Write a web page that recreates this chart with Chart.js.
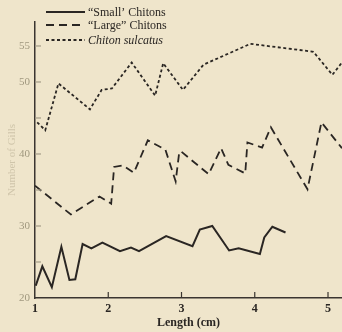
<!DOCTYPE html>
<html><head><meta charset="utf-8">
<script src="https://cdn.jsdelivr.net/npm/chart.js@4"></script>
<style>
html,body{margin:0;padding:0;background:#efe5cb;}
#wrap{width:342px;height:332px;position:relative;}
</style></head>
<body><div id="wrap"><canvas id="c" width="342" height="332"></canvas></div>
<script>
const seriesLabels = ["\u201cSmall\u2019 Chitons", "\u201cLarge\u201d Chitons", "Chiton sulcatus"];
const smallX = [1.01,1.10,1.23,1.36,1.47,1.55,1.65,1.77,1.92,2.16,2.31,2.42,2.79,3.15,3.25,3.42,3.65,3.78,4.07,4.13,4.24,4.42];
const smallY = [21.7,24.4,21.5,27.1,22.5,22.6,27.5,26.9,27.7,26.5,27.0,26.5,28.6,27.2,29.5,30.0,26.6,26.9,26.1,28.4,29.9,29.1];
const largeX = [1.00,1.49,1.88,2.04,2.08,2.20,2.35,2.54,2.78,2.92,2.97,3.00,3.37,3.54,3.64,3.87,3.90,4.10,4.22,4.72,4.91,5.19];
const largeY = [35.6,31.6,34.1,33.1,38.2,38.4,37.4,41.9,40.6,36.2,40.3,40.3,37.2,40.8,38.5,37.3,41.6,40.9,43.7,35.1,44.4,40.8];
const sulcX = [1.03,1.14,1.32,1.75,1.91,2.05,2.32,2.64,2.75,3.02,3.30,3.94,4.80,5.06,5.19];
const sulcY = [44.4,43.3,49.8,46.2,48.9,49.1,52.7,48.1,52.6,48.9,52.4,55.3,54.2,51.0,52.7];
const xTicks = [1,2,3,4,5];
const yTicks = [20,25,30,35,40,45,50,55];
const yLabelled = [20,30,40,50,55];

const ink = '#2a2623';
const serif = "'Liberation Serif','DejaVu Serif',serif";
const pts = (xs, ys) => xs.map((x, i) => ({x: x, y: ys[i]}));

const innerTicks = {
  id: 'innerTicks',
  afterDraw(chart) {
    const ctx = chart.ctx, xs = chart.scales.x, ys = chart.scales.y, a = chart.chartArea;
    ctx.save();
    ctx.strokeStyle = '#3a3530'; ctx.lineWidth = 1.2;
    xTicks.forEach(v => { if (v === 1) return; const p = xs.getPixelForValue(v);
      ctx.beginPath(); ctx.moveTo(p, a.bottom); ctx.lineTo(p, a.bottom - 6); ctx.stroke(); });
    ctx.strokeStyle = '#a49c88';
    yTicks.forEach(v => { if (v === 20) return; const p = ys.getPixelForValue(v);
      ctx.beginPath(); ctx.moveTo(a.left, p); ctx.lineTo(a.left + 6, p); ctx.stroke(); });
    // legend
    ctx.fillStyle = ink; ctx.textBaseline = 'middle';
    const rows = [12, 25, 40];
    chart.data.datasets.forEach((ds, i) => {
      ctx.strokeStyle = ink; ctx.lineWidth = ds.borderWidth;
      ctx.setLineDash(ds.borderDash || []);
      ctx.beginPath(); ctx.moveTo(46, rows[i]); ctx.lineTo(85, rows[i]); ctx.stroke();
      ctx.setLineDash([]);
      ctx.font = (i === 2 ? 'italic ' : '') + '12px ' + serif;
      ctx.fillText(ds.label, 88, rows[i] + 1);
    });
    ctx.restore();
  }
};

new Chart(document.getElementById('c'), {
  type: 'line',
  data: {
    datasets: [
      {label: seriesLabels[0], data: pts(smallX, smallY), borderColor: ink, borderWidth: 2, pointRadius: 0, tension: 0},
      {label: seriesLabels[1], data: pts(largeX, largeY), borderColor: ink, borderWidth: 1.8, borderDash: [8, 5], pointRadius: 0, tension: 0},
      {label: seriesLabels[2], data: pts(sulcX, sulcY), borderColor: ink, borderWidth: 1.8, borderDash: [3, 2.5], pointRadius: 0, tension: 0}
    ]
  },
  options: {
    responsive: false, animation: false,
    layout: {padding: {top: 22, right: 0, left: 0, bottom: 0}},
    plugins: {legend: {display: false}, tooltip: {enabled: false}},
    scales: {
      x: {
        type: 'linear', min: 1, max: 5.191,
        afterBuildTicks: s => { s.ticks = xTicks.map(v => ({value: v})); },
        afterFit: s => { s.height = 34; },
        grid: {display: false, drawTicks: false},
        border: {display: true, color: '#3a3530', width: 1.5},
        ticks: {color: '#2a2623', padding: 4, font: {family: serif, size: 12, weight: 'bold'}},
        title: {display: true, text: 'Length (cm)', color: '#2a2623', padding: {top: 0, bottom: 2}, font: {family: serif, size: 12, weight: 'bold'}}
      },
      y: {
        type: 'linear', min: 20, max: 58.33,
        afterBuildTicks: s => { s.ticks = yTicks.map(v => ({value: v})); },
        afterFit: s => { s.width = 35; },
        grid: {display: false, drawTicks: false},
        border: {display: true, color: '#3a3530', width: 1.5},
        ticks: {color: '#a0987f', padding: 5, font: {family: serif, size: 11},
          callback: v => yLabelled.includes(v) ? String(v) : ''},
        title: {display: true, text: 'Number of Gills', color: '#cfc5aa', padding: {top: 6, bottom: 0}, font: {family: serif, size: 11}}
      }
    }
  },
  plugins: [innerTicks]
});
</script></body></html>
